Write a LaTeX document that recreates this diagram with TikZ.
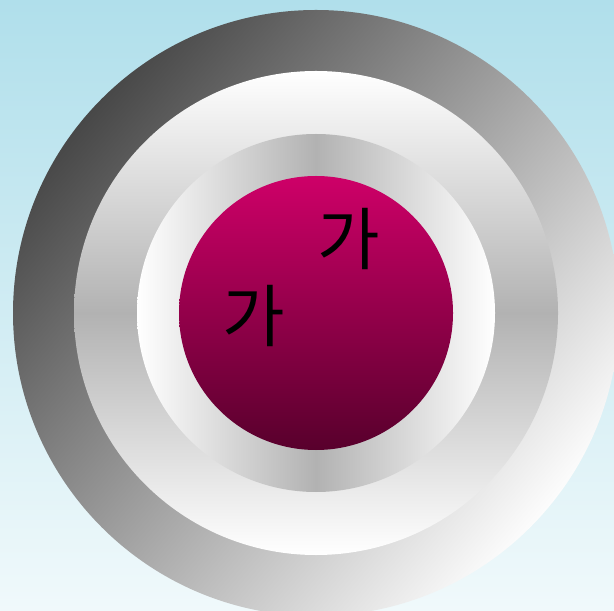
\documentclass[tikz,border=0pt]{standalone}
\usepackage{fontspec}
\usepackage{tikz}
\newfontfamily\krfont{Noto Sans CJK KR}

\definecolor{skytop}{RGB}{176,223,235}
\definecolor{skybottom}{RGB}{240,249,251}
\definecolor{ringdark}{RGB}{72,72,72}
\definecolor{ringlight}{RGB}{252,252,252}
\definecolor{ringgray}{RGB}{178,178,178}
\definecolor{coretop}{RGB}{206,0,104}
\definecolor{corebottom}{RGB}{88,0,44}

\begin{document}
\begin{tikzpicture}[
    x=0.5pt, y=0.5pt,
    ringdisc/.style={circle, draw=none, inner sep=0pt},
    glyph/.style={font=\krfont\fontsize{34}{34}\selectfont, text=black, inner sep=0pt}
]

% --- Background ---
\useasboundingbox (0,0) rectangle (614,610);
\clip (0,0) rectangle (614,610);
\shade[top color=skytop, bottom color=skybottom] (0,0) rectangle (614,610);

\coordinate (c) at (316,297);

% --- Concentric discs, outside in ---
\node[ringdisc, minimum size=303pt, top color=ringdark, bottom color=ringlight, shading angle=50] (outer) at (c) {};
\node[ringdisc, minimum size=242pt, top color=white, bottom color=white, middle color=ringgray] (ring2) at (c) {};
\node[ringdisc, minimum size=179pt, left color=white, right color=white, middle color=ringgray] (ring3) at (c) {};
\node[ringdisc, minimum size=137pt, top color=coretop, bottom color=corebottom] (core) at (c) {};

% --- Korean labels ---
\node[glyph] (ga1) at (349,371) {가};
\node[glyph] (ga2) at (254,294) {가};

\end{tikzpicture}
\end{document}
